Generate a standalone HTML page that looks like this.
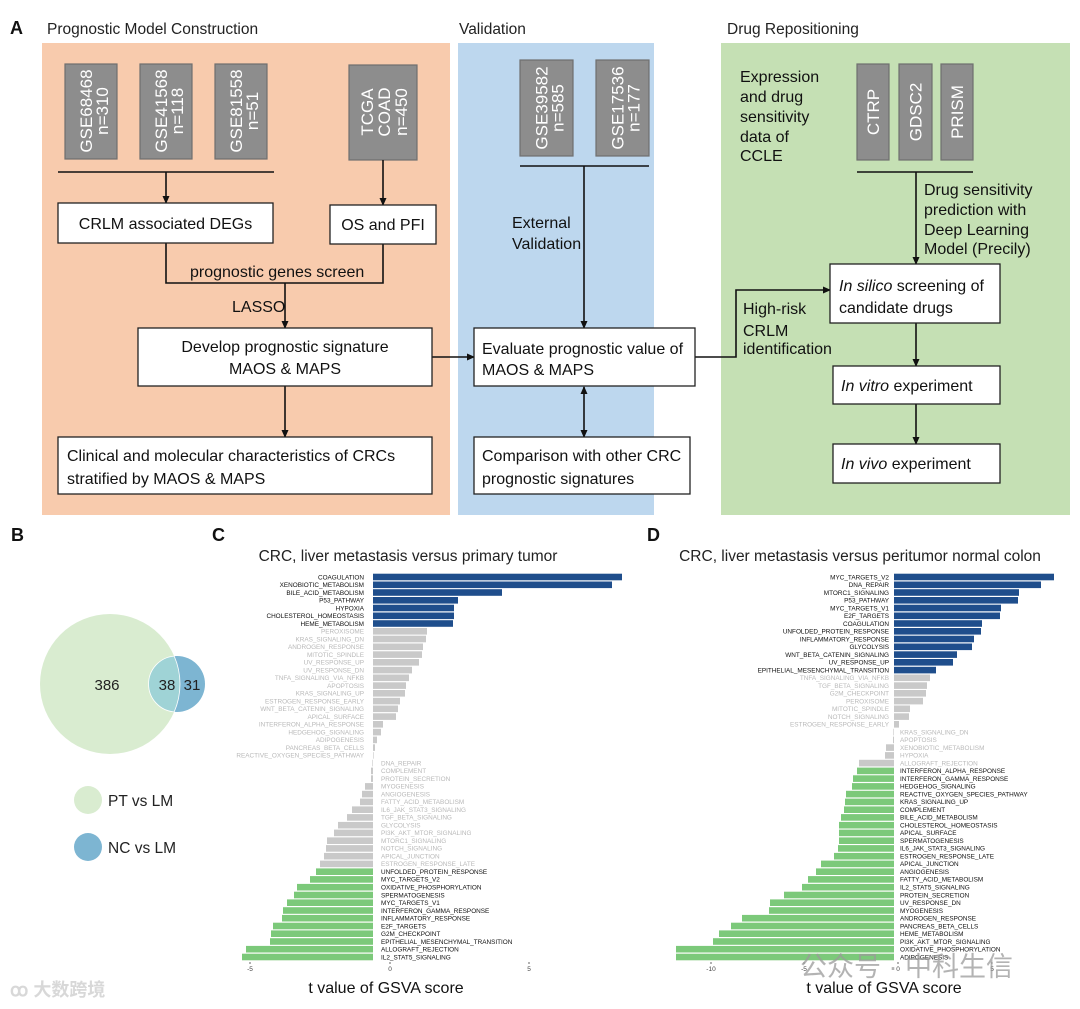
<!DOCTYPE html>
<html><head><meta charset="utf-8"><style>
html,body{margin:0;padding:0;background:#fff;}
svg{display:block;font-family:"Liberation Sans","Noto Sans CJK SC",sans-serif;}
.bx{fill:#fff;stroke:#222;stroke-width:1.3}
.gb{fill:#8d8d8d;stroke:#6f6f6f;stroke-width:1.2}
.ln{stroke:#111;stroke-width:1.6;fill:none}
.wt{fill:#fff;font-size:17px}
.t16{font-size:16px;fill:#111}
.ttl{font-size:15.5px;fill:#222}
.cl{font-size:6.4px;fill:#111}
.gl{font-size:6.4px;fill:#b9b9b9}
.B{fill:#1f4e8c}.G{fill:#c9c9c9}.N{fill:#7cc97a}
</style></head><body>
<svg width="1080" height="1009" viewBox="0 0 1080 1009" xmlns="http://www.w3.org/2000/svg">
<defs><marker id="ah" markerWidth="8" markerHeight="8" refX="7" refY="4" orient="auto" markerUnits="userSpaceOnUse"><path d="M0,0.5 L8,4 L0,7.5 z" fill="#111"/></marker>
<marker id="as" markerWidth="8" markerHeight="8" refX="1" refY="4" orient="auto" markerUnits="userSpaceOnUse"><path d="M8,0.5 L0,4 L8,7.5 z" fill="#111"/></marker></defs>

<rect x="42" y="43" width="408" height="472" fill="#f8cbad"/>
<rect x="458" y="43" width="196" height="472" fill="#bdd7ee"/>
<rect x="721" y="43" width="349" height="472" fill="#c5e0b4"/>
<text x="10" y="34" font-size="18" font-weight="bold" fill="#111">A</text>
<text x="47" y="34" class="ttl">Prognostic Model Construction</text>
<text x="459" y="34" class="ttl">Validation</text>
<text x="727" y="34" class="ttl">Drug Repositioning</text>

<rect class="gb" x="65" y="64" width="52" height="95"/>
<text class="wt" transform="translate(91,111) rotate(-90)" text-anchor="middle"><tspan x="0" y="1">GSE68468</tspan><tspan x="0" y="17">n=310</tspan></text>
<rect class="gb" x="140" y="64" width="52" height="95"/>
<text class="wt" transform="translate(166,111) rotate(-90)" text-anchor="middle"><tspan x="0" y="1">GSE41568</tspan><tspan x="0" y="17">n=118</tspan></text>
<rect class="gb" x="215" y="64" width="52" height="95"/>
<text class="wt" transform="translate(241,111) rotate(-90)" text-anchor="middle"><tspan x="0" y="1">GSE81558</tspan><tspan x="0" y="17">n=51</tspan></text>
<rect class="gb" x="349" y="65" width="68" height="95"/>
<text class="wt" transform="translate(383,112) rotate(-90)" text-anchor="middle"><tspan x="0" y="-10">TCGA</tspan><tspan x="0" y="7">COAD</tspan><tspan x="0" y="24">n=450</tspan></text>

<rect class="gb" x="520" y="60" width="53" height="96"/>
<text class="wt" transform="translate(546.5,108) rotate(-90)" text-anchor="middle"><tspan x="0" y="1">GSE39582</tspan><tspan x="0" y="17">n=585</tspan></text>
<rect class="gb" x="596" y="60" width="53" height="96"/>
<text class="wt" transform="translate(622.5,108) rotate(-90)" text-anchor="middle"><tspan x="0" y="1">GSE17536</tspan><tspan x="0" y="17">n=177</tspan></text>

<rect class="gb" x="857" y="64" width="32" height="96"/>
<text class="wt" transform="translate(873,112) rotate(-90)" text-anchor="middle" y="6">CTRP</text>
<rect class="gb" x="899" y="64" width="33" height="96"/>
<text class="wt" transform="translate(915.5,112) rotate(-90)" text-anchor="middle" y="6">GDSC2</text>
<rect class="gb" x="941" y="64" width="32" height="96"/>
<text class="wt" transform="translate(957,112) rotate(-90)" text-anchor="middle" y="6">PRISM</text>

<line class="ln" x1="58" y1="172" x2="274" y2="172"/>
<line class="ln" x1="166" y1="172" x2="166" y2="203" marker-end="url(#ah)"/>
<line class="ln" x1="383" y1="160" x2="383" y2="205" marker-end="url(#ah)"/>
<path class="ln" d="M166,243 V283 H383 V244"/>
<line class="ln" x1="285" y1="283" x2="285" y2="328" marker-end="url(#ah)"/>
<line class="ln" x1="432" y1="357" x2="474" y2="357" marker-end="url(#ah)"/>
<line class="ln" x1="285" y1="386" x2="285" y2="437" marker-end="url(#ah)"/>
<line class="ln" x1="520" y1="166" x2="649" y2="166"/>
<line class="ln" x1="584" y1="166" x2="584" y2="328" marker-end="url(#ah)"/>
<line class="ln" x1="584" y1="387" x2="584" y2="437" marker-start="url(#as)" marker-end="url(#ah)"/>
<line class="ln" x1="857" y1="172" x2="973" y2="172"/>
<line class="ln" x1="916" y1="172" x2="916" y2="264" marker-end="url(#ah)"/>
<path class="ln" d="M695,357 H736 V290 H830" marker-end="url(#ah)"/>
<line class="ln" x1="916" y1="323" x2="916" y2="366" marker-end="url(#ah)"/>
<line class="ln" x1="916" y1="404" x2="916" y2="444" marker-end="url(#ah)"/>

<rect class="bx" x="58" y="203" width="215" height="40"/>
<text class="t16" x="165.5" y="229" text-anchor="middle">CRLM associated DEGs</text>
<rect class="bx" x="330" y="205" width="106" height="39"/>
<text class="t16" x="383" y="230" text-anchor="middle">OS and PFI</text>
<text class="t16" x="190" y="277" font-size="15">prognostic genes screen</text>
<text class="t16" x="232" y="312" font-size="15">LASSO</text>
<rect class="bx" x="138" y="328" width="294" height="58"/>
<text class="t16" x="285" y="352" text-anchor="middle">Develop prognostic signature</text>
<text class="t16" x="285" y="374" text-anchor="middle">MAOS &amp; MAPS</text>
<rect class="bx" x="58" y="437" width="374" height="57"/>
<text class="t16" x="67" y="461">Clinical and molecular characteristics of CRCs</text>
<text class="t16" x="67" y="484">stratified by MAOS &amp; MAPS</text>

<text class="t16" x="512" y="228" font-size="15">External</text>
<text class="t16" x="512" y="249" font-size="15">Validation</text>
<rect class="bx" x="474" y="328" width="221" height="58"/>
<text class="t16" x="482" y="354">Evaluate prognostic value of</text>
<text class="t16" x="482" y="375">MAOS &amp; MAPS</text>
<rect class="bx" x="474" y="437" width="216" height="57"/>
<text class="t16" x="482" y="461">Comparison with other CRC</text>
<text class="t16" x="482" y="484">prognostic signatures</text>

<text class="t16" x="740" y="82" font-size="15.5">Expression</text>
<text class="t16" x="740" y="102" font-size="15.5">and drug</text>
<text class="t16" x="740" y="122" font-size="15.5">sensitivity</text>
<text class="t16" x="740" y="142" font-size="15.5">data of</text>
<text class="t16" x="740" y="161" font-size="15.5">CCLE</text>
<text class="t16" x="924" y="195" font-size="15.5">Drug sensitivity</text>
<text class="t16" x="924" y="215" font-size="15.5">prediction with</text>
<text class="t16" x="924" y="235" font-size="15.5">Deep Learning</text>
<text class="t16" x="924" y="254" font-size="15.5">Model (Precily)</text>
<rect class="bx" x="830" y="264" width="170" height="59"/>
<text class="t16" x="839" y="291"><tspan font-style="italic">In silico</tspan> screening of</text>
<text class="t16" x="839" y="313">candidate drugs</text>
<text class="t16" x="743" y="314" font-size="15.5">High-risk</text>
<text class="t16" x="743" y="336" font-size="15.5">CRLM</text>
<text class="t16" x="743" y="354" font-size="15.5">identification</text>
<rect class="bx" x="833" y="366" width="167" height="38"/>
<text class="t16" x="841" y="391"><tspan font-style="italic">In vitro</tspan> experiment</text>
<rect class="bx" x="833" y="444" width="167" height="39"/>
<text class="t16" x="841" y="469"><tspan font-style="italic">In vivo</tspan> experiment</text>

<text x="11" y="541" font-size="18" font-weight="bold" fill="#111">B</text>
<circle cx="110" cy="684" r="70" fill="#d9ecd0"/>
<circle cx="177" cy="684" r="28" fill="#7db5d2"/>
<path d="M174.2,656.1 A28,28 0 0 0 174.2,711.9 A70,70 0 0 0 174.2,656.1 Z" fill="#9fd3d6" stroke="#fff" stroke-width="0.8"/>
<text x="107" y="690" font-size="15" text-anchor="middle" fill="#222">386</text>
<text x="167" y="690" font-size="15" text-anchor="middle" fill="#222">38</text>
<text x="192" y="690" font-size="15" text-anchor="middle" fill="#222">31</text>
<circle cx="88" cy="800" r="14" fill="#d9ecd0"/>
<text x="108" y="806" font-size="15.5" fill="#222">PT vs LM</text>
<circle cx="88" cy="847" r="14" fill="#7db5d2"/>
<text x="108" y="853" font-size="15.5" fill="#222">NC vs LM</text>
<text x="10" y="996" font-size="18" fill="#d8d8d8" font-weight="bold">ꝏ 大数跨境</text>

<text x="212" y="541" font-size="18" font-weight="bold" fill="#111">C</text>
<text x="408" y="561" font-size="15.5" text-anchor="middle" fill="#222">CRC, liver metastasis versus primary tumor</text>
<g>
<rect class="B" x="373" y="573.7" width="249" height="6.6"/><text class="cl" x="364" y="579.3" text-anchor="end">COAGULATION</text>
<rect class="B" x="373" y="581.5" width="239" height="6.6"/><text class="cl" x="364" y="587.1" text-anchor="end">XENOBIOTIC_METABOLISM</text>
<rect class="B" x="373" y="589.2" width="129" height="6.6"/><text class="cl" x="364" y="594.8" text-anchor="end">BILE_ACID_METABOLISM</text>
<rect class="B" x="373" y="597.0" width="85" height="6.6"/><text class="cl" x="364" y="602.6" text-anchor="end">P53_PATHWAY</text>
<rect class="B" x="373" y="604.7" width="81" height="6.6"/><text class="cl" x="364" y="610.3" text-anchor="end">HYPOXIA</text>
<rect class="B" x="373" y="612.5" width="81" height="6.6"/><text class="cl" x="364" y="618.1" text-anchor="end">CHOLESTEROL_HOMEOSTASIS</text>
<rect class="B" x="373" y="620.2" width="80" height="6.6"/><text class="cl" x="364" y="625.8" text-anchor="end">HEME_METABOLISM</text>
<rect class="G" x="373" y="628.0" width="54" height="6.6"/><text class="gl" x="364" y="633.6" text-anchor="end">PEROXISOME</text>
<rect class="G" x="373" y="635.7" width="53" height="6.6"/><text class="gl" x="364" y="641.3" text-anchor="end">KRAS_SIGNALING_DN</text>
<rect class="G" x="373" y="643.5" width="50" height="6.6"/><text class="gl" x="364" y="649.1" text-anchor="end">ANDROGEN_RESPONSE</text>
<rect class="G" x="373" y="651.3" width="49" height="6.6"/><text class="gl" x="364" y="656.9" text-anchor="end">MITOTIC_SPINDLE</text>
<rect class="G" x="373" y="659.0" width="46" height="6.6"/><text class="gl" x="364" y="664.6" text-anchor="end">UV_RESPONSE_UP</text>
<rect class="G" x="373" y="666.8" width="39" height="6.6"/><text class="gl" x="364" y="672.4" text-anchor="end">UV_RESPONSE_DN</text>
<rect class="G" x="373" y="674.5" width="36" height="6.6"/><text class="gl" x="364" y="680.1" text-anchor="end">TNFA_SIGNALING_VIA_NFKB</text>
<rect class="G" x="373" y="682.3" width="33" height="6.6"/><text class="gl" x="364" y="687.9" text-anchor="end">APOPTOSIS</text>
<rect class="G" x="373" y="690.0" width="32" height="6.6"/><text class="gl" x="364" y="695.6" text-anchor="end">KRAS_SIGNALING_UP</text>
<rect class="G" x="373" y="697.8" width="27" height="6.6"/><text class="gl" x="364" y="703.4" text-anchor="end">ESTROGEN_RESPONSE_EARLY</text>
<rect class="G" x="373" y="705.5" width="25" height="6.6"/><text class="gl" x="364" y="711.1" text-anchor="end">WNT_BETA_CATENIN_SIGNALING</text>
<rect class="G" x="373" y="713.3" width="23" height="6.6"/><text class="gl" x="364" y="718.9" text-anchor="end">APICAL_SURFACE</text>
<rect class="G" x="373" y="721.0" width="10" height="6.6"/><text class="gl" x="364" y="726.6" text-anchor="end">INTERFERON_ALPHA_RESPONSE</text>
<rect class="G" x="373" y="728.8" width="8" height="6.6"/><text class="gl" x="364" y="734.4" text-anchor="end">HEDGEHOG_SIGNALING</text>
<rect class="G" x="373" y="736.6" width="4" height="6.6"/><text class="gl" x="364" y="742.2" text-anchor="end">ADIPOGENESIS</text>
<rect class="G" x="373" y="744.3" width="2" height="6.6"/><text class="gl" x="364" y="749.9" text-anchor="end">PANCREAS_BETA_CELLS</text>
<rect class="G" x="373" y="752.1" width="0.6" height="6.6"/><text class="gl" x="364" y="757.7" text-anchor="end">REACTIVE_OXYGEN_SPECIES_PATHWAY</text>
<rect class="G" x="372.4" y="759.8" width="0.6" height="6.6"/><text class="gl" x="381" y="765.4">DNA_REPAIR</text>
<rect class="G" x="371" y="767.6" width="2" height="6.6"/><text class="gl" x="381" y="773.2">COMPLEMENT</text>
<rect class="G" x="371" y="775.3" width="2" height="6.6"/><text class="gl" x="381" y="780.9">PROTEIN_SECRETION</text>
<rect class="G" x="365" y="783.1" width="8" height="6.6"/><text class="gl" x="381" y="788.7">MYOGENESIS</text>
<rect class="G" x="362" y="790.8" width="11" height="6.6"/><text class="gl" x="381" y="796.4">ANGIOGENESIS</text>
<rect class="G" x="360" y="798.6" width="13" height="6.6"/><text class="gl" x="381" y="804.2">FATTY_ACID_METABOLISM</text>
<rect class="G" x="352" y="806.4" width="21" height="6.6"/><text class="gl" x="381" y="812.0">IL6_JAK_STAT3_SIGNALING</text>
<rect class="G" x="347" y="814.1" width="26" height="6.6"/><text class="gl" x="381" y="819.7">TGF_BETA_SIGNALING</text>
<rect class="G" x="338" y="821.9" width="35" height="6.6"/><text class="gl" x="381" y="827.5">GLYCOLYSIS</text>
<rect class="G" x="334" y="829.6" width="39" height="6.6"/><text class="gl" x="381" y="835.2">PI3K_AKT_MTOR_SIGNALING</text>
<rect class="G" x="327" y="837.4" width="46" height="6.6"/><text class="gl" x="381" y="843.0">MTORC1_SIGNALING</text>
<rect class="G" x="326" y="845.1" width="47" height="6.6"/><text class="gl" x="381" y="850.7">NOTCH_SIGNALING</text>
<rect class="G" x="324" y="852.9" width="49" height="6.6"/><text class="gl" x="381" y="858.5">APICAL_JUNCTION</text>
<rect class="G" x="320" y="860.6" width="53" height="6.6"/><text class="gl" x="381" y="866.2">ESTROGEN_RESPONSE_LATE</text>
<rect class="N" x="316" y="868.4" width="57" height="6.6"/><text class="cl" x="381" y="874.0">UNFOLDED_PROTEIN_RESPONSE</text>
<rect class="N" x="310" y="876.1" width="63" height="6.6"/><text class="cl" x="381" y="881.7">MYC_TARGETS_V2</text>
<rect class="N" x="297" y="883.9" width="76" height="6.6"/><text class="cl" x="381" y="889.5">OXIDATIVE_PHOSPHORYLATION</text>
<rect class="N" x="294" y="891.7" width="79" height="6.6"/><text class="cl" x="381" y="897.3">SPERMATOGENESIS</text>
<rect class="N" x="287" y="899.4" width="86" height="6.6"/><text class="cl" x="381" y="905.0">MYC_TARGETS_V1</text>
<rect class="N" x="283" y="907.2" width="90" height="6.6"/><text class="cl" x="381" y="912.8">INTERFERON_GAMMA_RESPONSE</text>
<rect class="N" x="282" y="914.9" width="91" height="6.6"/><text class="cl" x="381" y="920.5">INFLAMMATORY_RESPONSE</text>
<rect class="N" x="273" y="922.7" width="100" height="6.6"/><text class="cl" x="381" y="928.3">E2F_TARGETS</text>
<rect class="N" x="271" y="930.4" width="102" height="6.6"/><text class="cl" x="381" y="936.0">G2M_CHECKPOINT</text>
<rect class="N" x="270" y="938.2" width="103" height="6.6"/><text class="cl" x="381" y="943.8">EPITHELIAL_MESENCHYMAL_TRANSITION</text>
<rect class="N" x="246" y="945.9" width="127" height="6.6"/><text class="cl" x="381" y="951.5">ALLOGRAFT_REJECTION</text>
<rect class="N" x="242" y="953.7" width="131" height="6.6"/><text class="cl" x="381" y="959.3">IL2_STAT5_SIGNALING</text>
</g>
<g font-size="6.5" fill="#444" text-anchor="middle">
<line x1="250" y1="962" x2="250" y2="964" stroke="#666"/><text x="250" y="971">-5</text>
<line x1="390" y1="962" x2="390" y2="964" stroke="#666"/><text x="390" y="971">0</text>
<line x1="529" y1="962" x2="529" y2="964" stroke="#666"/><text x="529" y="971">5</text>
</g>
<text x="386" y="993" font-size="16" text-anchor="middle" fill="#111">t value of GSVA score</text>

<text x="647" y="541" font-size="18" font-weight="bold" fill="#111">D</text>
<text x="860" y="561" font-size="15.5" text-anchor="middle" fill="#222">CRC, liver metastasis versus peritumor normal colon</text>
<g>
<rect class="B" x="894" y="573.7" width="160" height="6.6"/><text class="cl" x="889" y="579.3" text-anchor="end">MYC_TARGETS_V2</text>
<rect class="B" x="894" y="581.5" width="147" height="6.6"/><text class="cl" x="889" y="587.1" text-anchor="end">DNA_REPAIR</text>
<rect class="B" x="894" y="589.2" width="125" height="6.6"/><text class="cl" x="889" y="594.8" text-anchor="end">MTORC1_SIGNALING</text>
<rect class="B" x="894" y="597.0" width="124" height="6.6"/><text class="cl" x="889" y="602.6" text-anchor="end">P53_PATHWAY</text>
<rect class="B" x="894" y="604.7" width="107" height="6.6"/><text class="cl" x="889" y="610.3" text-anchor="end">MYC_TARGETS_V1</text>
<rect class="B" x="894" y="612.5" width="106" height="6.6"/><text class="cl" x="889" y="618.1" text-anchor="end">E2F_TARGETS</text>
<rect class="B" x="894" y="620.2" width="88" height="6.6"/><text class="cl" x="889" y="625.8" text-anchor="end">COAGULATION</text>
<rect class="B" x="894" y="628.0" width="87" height="6.6"/><text class="cl" x="889" y="633.6" text-anchor="end">UNFOLDED_PROTEIN_RESPONSE</text>
<rect class="B" x="894" y="635.7" width="80" height="6.6"/><text class="cl" x="889" y="641.3" text-anchor="end">INFLAMMATORY_RESPONSE</text>
<rect class="B" x="894" y="643.5" width="78" height="6.6"/><text class="cl" x="889" y="649.1" text-anchor="end">GLYCOLYSIS</text>
<rect class="B" x="894" y="651.3" width="63" height="6.6"/><text class="cl" x="889" y="656.9" text-anchor="end">WNT_BETA_CATENIN_SIGNALING</text>
<rect class="B" x="894" y="659.0" width="59" height="6.6"/><text class="cl" x="889" y="664.6" text-anchor="end">UV_RESPONSE_UP</text>
<rect class="B" x="894" y="666.8" width="42" height="6.6"/><text class="cl" x="889" y="672.4" text-anchor="end">EPITHELIAL_MESENCHYMAL_TRANSITION</text>
<rect class="G" x="894" y="674.5" width="36" height="6.6"/><text class="gl" x="889" y="680.1" text-anchor="end">TNFA_SIGNALING_VIA_NFKB</text>
<rect class="G" x="894" y="682.3" width="33" height="6.6"/><text class="gl" x="889" y="687.9" text-anchor="end">TGF_BETA_SIGNALING</text>
<rect class="G" x="894" y="690.0" width="32" height="6.6"/><text class="gl" x="889" y="695.6" text-anchor="end">G2M_CHECKPOINT</text>
<rect class="G" x="894" y="697.8" width="29" height="6.6"/><text class="gl" x="889" y="703.4" text-anchor="end">PEROXISOME</text>
<rect class="G" x="894" y="705.5" width="16" height="6.6"/><text class="gl" x="889" y="711.1" text-anchor="end">MITOTIC_SPINDLE</text>
<rect class="G" x="894" y="713.3" width="15" height="6.6"/><text class="gl" x="889" y="718.9" text-anchor="end">NOTCH_SIGNALING</text>
<rect class="G" x="894" y="721.0" width="5" height="6.6"/><text class="gl" x="889" y="726.6" text-anchor="end">ESTROGEN_RESPONSE_EARLY</text>
<rect class="G" x="893.4" y="728.8" width="0.6" height="6.6"/><text class="gl" x="900" y="734.4">KRAS_SIGNALING_DN</text>
<rect class="G" x="893" y="736.6" width="1" height="6.6"/><text class="gl" x="900" y="742.2">APOPTOSIS</text>
<rect class="G" x="886" y="744.3" width="8" height="6.6"/><text class="gl" x="900" y="749.9">XENOBIOTIC_METABOLISM</text>
<rect class="G" x="885" y="752.1" width="9" height="6.6"/><text class="gl" x="900" y="757.7">HYPOXIA</text>
<rect class="G" x="859" y="759.8" width="35" height="6.6"/><text class="gl" x="900" y="765.4">ALLOGRAFT_REJECTION</text>
<rect class="N" x="857" y="767.6" width="37" height="6.6"/><text class="cl" x="900" y="773.2">INTERFERON_ALPHA_RESPONSE</text>
<rect class="N" x="853" y="775.3" width="41" height="6.6"/><text class="cl" x="900" y="780.9">INTERFERON_GAMMA_RESPONSE</text>
<rect class="N" x="852" y="783.1" width="42" height="6.6"/><text class="cl" x="900" y="788.7">HEDGEHOG_SIGNALING</text>
<rect class="N" x="846" y="790.8" width="48" height="6.6"/><text class="cl" x="900" y="796.4">REACTIVE_OXYGEN_SPECIES_PATHWAY</text>
<rect class="N" x="845" y="798.6" width="49" height="6.6"/><text class="cl" x="900" y="804.2">KRAS_SIGNALING_UP</text>
<rect class="N" x="844" y="806.4" width="50" height="6.6"/><text class="cl" x="900" y="812.0">COMPLEMENT</text>
<rect class="N" x="841" y="814.1" width="53" height="6.6"/><text class="cl" x="900" y="819.7">BILE_ACID_METABOLISM</text>
<rect class="N" x="839" y="821.9" width="55" height="6.6"/><text class="cl" x="900" y="827.5">CHOLESTEROL_HOMEOSTASIS</text>
<rect class="N" x="839" y="829.6" width="55" height="6.6"/><text class="cl" x="900" y="835.2">APICAL_SURFACE</text>
<rect class="N" x="839" y="837.4" width="55" height="6.6"/><text class="cl" x="900" y="843.0">SPERMATOGENESIS</text>
<rect class="N" x="838" y="845.1" width="56" height="6.6"/><text class="cl" x="900" y="850.7">IL6_JAK_STAT3_SIGNALING</text>
<rect class="N" x="834" y="852.9" width="60" height="6.6"/><text class="cl" x="900" y="858.5">ESTROGEN_RESPONSE_LATE</text>
<rect class="N" x="821" y="860.6" width="73" height="6.6"/><text class="cl" x="900" y="866.2">APICAL_JUNCTION</text>
<rect class="N" x="816" y="868.4" width="78" height="6.6"/><text class="cl" x="900" y="874.0">ANGIOGENESIS</text>
<rect class="N" x="808" y="876.1" width="86" height="6.6"/><text class="cl" x="900" y="881.7">FATTY_ACID_METABOLISM</text>
<rect class="N" x="802" y="883.9" width="92" height="6.6"/><text class="cl" x="900" y="889.5">IL2_STAT5_SIGNALING</text>
<rect class="N" x="784" y="891.7" width="110" height="6.6"/><text class="cl" x="900" y="897.3">PROTEIN_SECRETION</text>
<rect class="N" x="770" y="899.4" width="124" height="6.6"/><text class="cl" x="900" y="905.0">UV_RESPONSE_DN</text>
<rect class="N" x="769" y="907.2" width="125" height="6.6"/><text class="cl" x="900" y="912.8">MYOGENESIS</text>
<rect class="N" x="742" y="914.9" width="152" height="6.6"/><text class="cl" x="900" y="920.5">ANDROGEN_RESPONSE</text>
<rect class="N" x="731" y="922.7" width="163" height="6.6"/><text class="cl" x="900" y="928.3">PANCREAS_BETA_CELLS</text>
<rect class="N" x="719" y="930.4" width="175" height="6.6"/><text class="cl" x="900" y="936.0">HEME_METABOLISM</text>
<rect class="N" x="713" y="938.2" width="181" height="6.6"/><text class="cl" x="900" y="943.8">PI3K_AKT_MTOR_SIGNALING</text>
<rect class="N" x="676" y="945.9" width="218" height="6.6"/><text class="cl" x="900" y="951.5">OXIDATIVE_PHOSPHORYLATION</text>
<rect class="N" x="676" y="953.7" width="218" height="6.6"/><text class="cl" x="900" y="959.3">ADIPOGENESIS</text>
</g>
<g font-size="6.5" fill="#444" text-anchor="middle">
<line x1="711" y1="962" x2="711" y2="964" stroke="#666"/><text x="711" y="971">-10</text>
<line x1="804" y1="962" x2="804" y2="964" stroke="#666"/><text x="804" y="971">-5</text>
<line x1="898" y1="962" x2="898" y2="964" stroke="#666"/><text x="898" y="971">0</text>
<line x1="992" y1="962" x2="992" y2="964" stroke="#666"/><text x="992" y="971">5</text>
</g>
<text x="884" y="993" font-size="16" text-anchor="middle" fill="#111">t value of GSVA score</text>
<text x="800" y="976" font-size="27" fill="#9a9a9a" fill-opacity="0.75">公众号 · 中科生信</text>
</svg>
</body></html>
